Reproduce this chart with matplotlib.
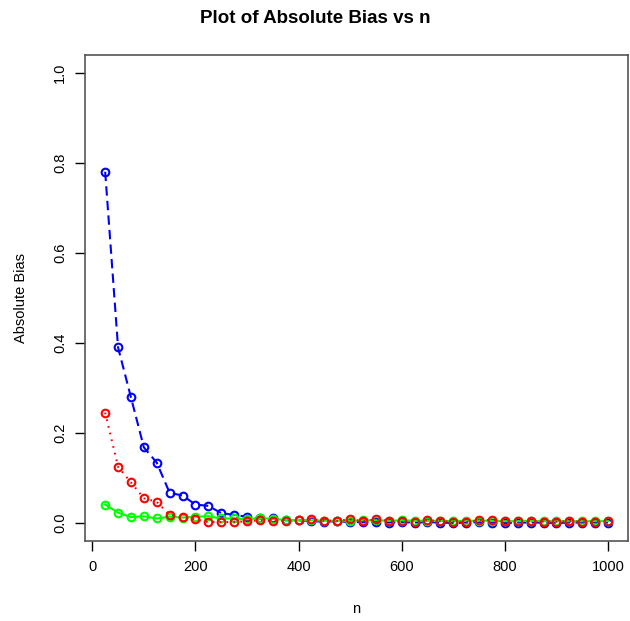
import numpy as np
from matplotlib import pyplot as plt

plt.rcParams['font.family'] = ['Liberation Sans', 'DejaVu Sans']

# sample sizes
n = np.arange(25, 1001, 25)

# absolute bias
bias_blue = [0.780, 0.390, 0.279, 0.168, 0.134, 0.067, 0.061, 0.041, 0.038, 0.022,
             0.018, 0.014, 0.010, 0.010, 0.006, 0.006, 0.004, 0.003, 0.004, 0.002,
             0.002, 0.003, 0.001, 0.002, 0.001, 0.002, 0.001, 0.000, 0.001, 0.002,
             0.001, 0.000, 0.001, 0.001, 0.001, 0.000, 0.001, 0.001, 0.001, 0.001]
bias_red = [0.245, 0.125, 0.090, 0.055, 0.047, 0.018, 0.013, 0.008, 0.002, 0.002,
            0.002, 0.004, 0.006, 0.004, 0.005, 0.006, 0.008, 0.005, 0.005, 0.008,
            0.004, 0.008, 0.005, 0.004, 0.003, 0.006, 0.004, 0.003, 0.002, 0.006,
            0.007, 0.005, 0.005, 0.004, 0.003, 0.003, 0.004, 0.003, 0.003, 0.005]
bias_green = [0.041, 0.023, 0.013, 0.015, 0.010, 0.014, 0.012, 0.014, 0.015, 0.010,
              0.010, 0.008, 0.011, 0.009, 0.007, 0.006, 0.006, 0.005, 0.005, 0.005,
              0.006, 0.006, 0.005, 0.006, 0.005, 0.005, 0.005, 0.004, 0.005, 0.005,
              0.005, 0.004, 0.004, 0.005, 0.004, 0.004, 0.004, 0.004, 0.004, 0.004]

fig = plt.figure(figsize=(6.3, 6.21), dpi=100)
ax = fig.add_axes([0.135, 0.1288, 0.862, 0.7832])

mk = dict(marker='o', markersize=5.5, markerfacecolor='none', markeredgewidth=1.5)
ax.plot(n, bias_blue, color='#0000ff', lw=1.5, dashes=(4.5, 2.5), markeredgecolor='#0000ff', **mk)
ax.plot(n, bias_green, color='#00ff00', lw=1.5, markeredgecolor='#00ff00', **mk)
ax.plot(n, bias_red, color='#ff0000', lw=1.5, dashes=(0.8, 2.5), markeredgecolor='#ff0000', **mk)

ax.set_xlim(-14, 1039)
ax.set_ylim(-0.04, 1.04)
ax.set_xticks([0, 200, 400, 600, 800, 1000])
ax.set_yticks([0.0, 0.2, 0.4, 0.6, 0.8, 1.0])
ax.set_yticklabels(['0.0', '0.2', '0.4', '0.6', '0.8', '1.0'], rotation=90, va='center')
ax.tick_params(direction='out', length=7, width=1, labelsize=10.5, colors='black')
ax.tick_params(axis='x', pad=7)
ax.tick_params(axis='y', pad=6)
for sp in ax.spines.values():
    sp.set_color('#555555')
    sp.set_linewidth(1.2)

ax.set_xlabel('n', fontsize=10.5, labelpad=20)
ax.set_ylabel('Absolute Bias', fontsize=10.5, labelpad=18)
fig.text(0.5, 0.97, 'Plot of Absolute Bias vs n', ha='center', va='center',
         fontsize=13.5, fontweight='bold')

fig.savefig('out.png', dpi=100)
